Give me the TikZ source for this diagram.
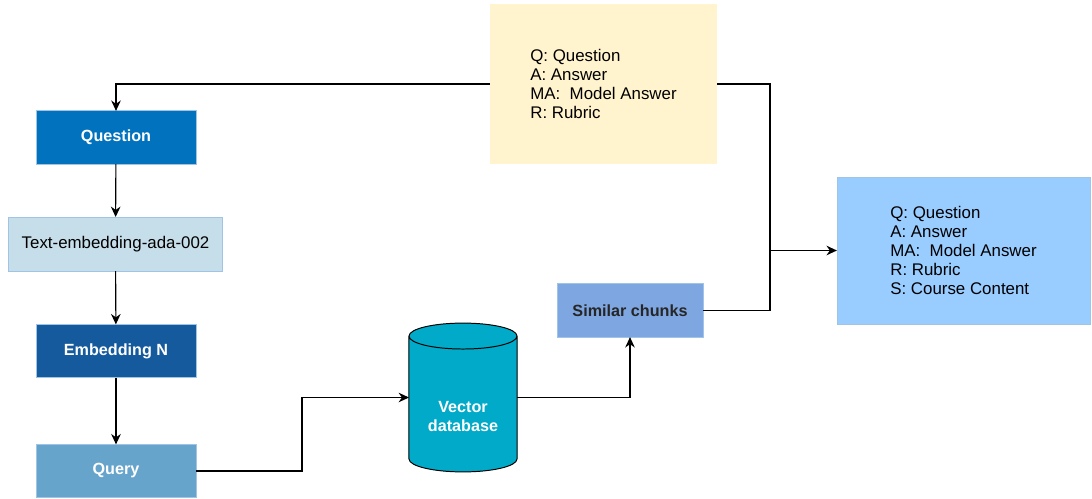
\documentclass[tikz,border=0pt]{standalone}
\usepackage{fontspec}
\setmainfont{Liberation Sans}
\usepackage{tikz}
\usepackage{xcolor}
\usetikzlibrary{positioning,shapes.geometric,arrows.meta,calc}
\definecolor{qblue}{RGB}{0,114,190}
\definecolor{embpale}{RGB}{198,222,234}
\definecolor{embdark}{RGB}{22,90,158}
\definecolor{qrylight}{RGB}{102,164,204}
\definecolor{dbcyan}{RGB}{0,170,200}
\definecolor{chunkblue}{RGB}{126,166,224}
\definecolor{ctxblue}{RGB}{153,204,255}
\definecolor{noteyellow}{RGB}{255,244,206}
\definecolor{edgeline}{RGB}{160,196,230}

\begin{document}
\begin{tikzpicture}[x=0.025cm, y=-0.025cm,
    % Node styles
    stage/.style={rectangle, draw=edgeline, line width=0.6pt, inner sep=0pt, outer sep=0pt,
                  minimum width=4cm, minimum height=1.33cm, align=center,
                  font=\fontsize{11.5}{13.5}\selectfont\bfseries, text=white},
    database/.style={cylinder, shape border rotate=90, draw=black, line width=0.7pt, fill=dbcyan,
                     text=white, minimum width=2.7cm, minimum height=3.72cm, aspect=0.37,
                     inner sep=0pt, outer sep=0pt, align=center,
                     font=\fontsize{11.5}{13.5}\selectfont\bfseries},
    legend/.style={rectangle, inner sep=0pt, outer sep=0pt, align=left,
                   font=\fontsize{12}{13.5}\selectfont},
    % Arrow styles
    flow/.style={-{Stealth[length=2.6mm, width=2.4mm]}, line width=0.8pt, color=black},
    link/.style={line width=0.8pt, color=black}
]

\useasboundingbox (0,0) rectangle (1092,499);

% Embedding pipeline (left column)
\node[stage, fill=qblue] (question) at (116,137.5) {Question};
\node[stage, fill=embpale, text=black, font=\fontsize{12}{13.5}\selectfont,
      minimum width=5.33cm, minimum height=1.35cm] (ada) at (115.5,244) {Text-embedding-ada-002};
\node[stage, fill=embdark] (embedding) at (116,351) {Embedding N};
\node[stage, fill=qrylight] (query) at (116,471) {Query};

% Retrieval
\node[database, anchor=shape center] (vectordb) at (463,397.5) {\\[12pt]Vector\\database};
\node[stage, fill=chunkblue, text=black!85, minimum width=3.65cm, minimum height=1.33cm] (chunks) at (630,310.5) {Similar chunks};

% Inputs and prompt context
\node[legend, fill=noteyellow, minimum width=5.68cm, minimum height=4cm] (inputs) at (603.5,84) {%
    Q: Question\\
    A: Answer\\
    MA:\ \ Model Answer\\
    R: Rubric};
\node[legend, fill=ctxblue, draw=edgeline, line width=0.4pt, minimum width=6.33cm, minimum height=3.68cm] (context) at (963.5,250.5) {%
    Q: Question\\
    A: Answer\\
    MA:\ \ Model Answer\\
    R: Rubric\\
    S: Course Content};

\coordinate (joint) at (770,250.5);

% Data flow arrows
\draw[flow] (inputs.west) -| (question.north);
\draw[flow] (question) -- (ada);
\draw[flow] (ada) -- (embedding);
\draw[flow] (embedding) -- (query);
\draw[flow] (query.east) -- ++(106,0) |- (vectordb.west |- vectordb.shape center);
\draw[flow] (vectordb.east |- vectordb.shape center) -| (chunks.south);

% Merge into the context
\draw[link] (inputs.east) -| (joint);
\draw[link] (chunks.east) -| (joint);
\draw[flow] (joint) -- (context.west);

\end{tikzpicture}
\end{document}
